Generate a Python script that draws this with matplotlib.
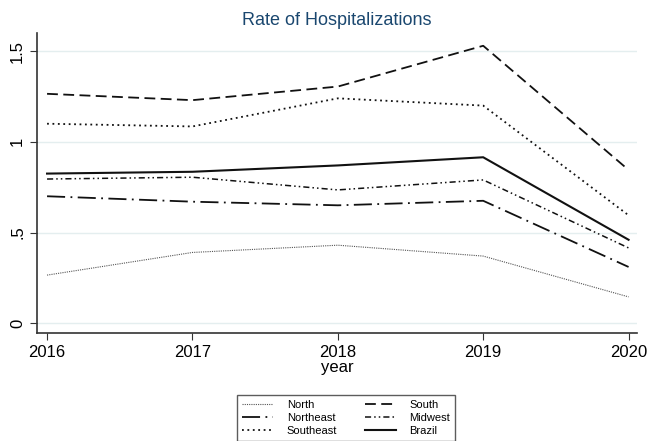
import matplotlib.pyplot as plt

plt.rcParams['font.family'] = ['Liberation Sans', 'DejaVu Sans']

# ---------- datos ----------
years = [2016, 2017, 2018, 2019, 2020]
north = [0.265, 0.39, 0.43, 0.37, 0.145]
northeast = [0.70, 0.67, 0.65, 0.675, 0.31]
southeast = [1.10, 1.085, 1.24, 1.20, 0.595]
south = [1.265, 1.23, 1.305, 1.53, 0.845]
midwest = [0.795, 0.805, 0.735, 0.79, 0.415]
brazil = [0.825, 0.835, 0.87, 0.915, 0.46]

# ---------- figura ----------
fig = plt.figure(figsize=(6.47, 4.41), dpi=100)
ax = fig.add_axes([0.057, 0.245, 0.928, 0.68])

h_n, = ax.plot(years, north, color='#555555', lw=0.8, ls=(0, (1, 1)), label='North')
h_ne, = ax.plot(years, northeast, color='#111111', lw=1.3, ls=(0, (10, 3, 1, 3)), label='Northeast')
h_se, = ax.plot(years, southeast, color='#111111', lw=1.3, ls=(0, (1, 2)), label='Southeast')
h_s, = ax.plot(years, south, color='#111111', lw=1.3, ls=(0, (6, 3)), label='South')
h_mw, = ax.plot(years, midwest, color='#111111', lw=1.1, ls=(0, (4, 2, 1, 2, 1, 2)), label='Midwest')
h_br, = ax.plot(years, brazil, color='#111111', lw=1.5, ls='-', label='Brazil')

ax.set_xlim(2015.93, 2020.06)
ax.set_ylim(-0.054, 1.6)
ax.set_xticks(years)
ax.set_yticks([0, 0.5, 1, 1.5])
ax.set_yticklabels(['0', '.5', '1', '1.5'], rotation=90, va='center')
ax.tick_params(labelsize=12, color='#333333', length=5)
ax.grid(axis='y', color='#e4eeef', lw=1)
ax.set_axisbelow(True)
for s in ['top', 'right']:
    ax.spines[s].set_visible(False)
for s in ['left', 'bottom']:
    ax.spines[s].set_color('#333333')
    ax.spines[s].set_linewidth(1.2)

ax.set_xlabel('year', fontsize=12, labelpad=0)
ax.set_title('Rate of Hospitalizations', fontsize=13, color='#1a476f', pad=6)

fig.legend(handles=[h_n, h_ne, h_se, h_s, h_mw, h_br], ncol=2,
           loc='upper center', bbox_to_anchor=(0.535, 0.118), fontsize=8,
           frameon=True, fancybox=False, edgecolor='#333333',
           handlelength=2.8, columnspacing=2.5, labelspacing=0.3,
           borderpad=0.45, handletextpad=1.2)

fig.savefig('out.png', dpi=100)
